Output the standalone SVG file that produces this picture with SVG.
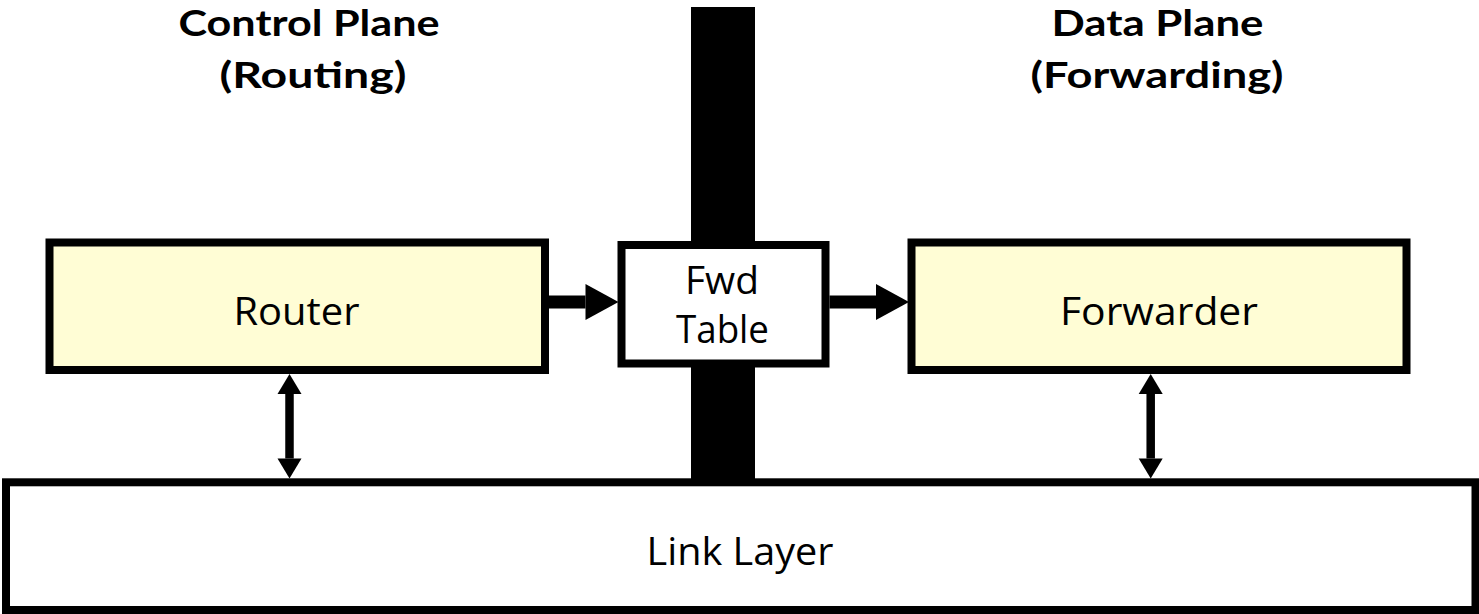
<svg xmlns="http://www.w3.org/2000/svg" width="1479" height="614" viewBox="0 0 1479 614">
<defs>
<style>
.box{stroke:#000;stroke-width:8;}
.plane{fill:#FFFDD5;}
.white{fill:#FFFFFF;}
.lbl{font-family:"Open Sans","Liberation Sans",sans-serif;font-size:39px;fill:#000;text-anchor:middle;}
.small{font-size:38px;}
.ttl{font-family:Lato,"Open Sans","Liberation Sans",sans-serif;font-size:37px;font-weight:bold;fill:#000;text-anchor:middle;}
.hshaft{stroke:#000;stroke-width:13;fill:none;marker-end:url(#hhead);}
.vshaft{stroke:#000;stroke-width:8.5;fill:none;marker-start:url(#vhead);marker-end:url(#vhead);}
</style>
<marker id="hhead" markerUnits="userSpaceOnUse" markerWidth="33" markerHeight="36" refX="0" refY="18" orient="auto" overflow="visible">
<path d="M0,0 L33,18 L0,36 Z" fill="#000"/>
</marker>
<marker id="vhead" markerUnits="userSpaceOnUse" markerWidth="20" markerHeight="24" refX="0" refY="12" orient="auto-start-reverse" overflow="visible">
<path d="M0,0 L20,12 L0,24 Z" fill="#000"/>
</marker>
</defs>
<rect width="1479" height="614" fill="#FFFFFF"/>

<g id="titles">
<text class="ttl" x="309" y="36" textLength="261" lengthAdjust="spacingAndGlyphs">Control Plane</text>
<text class="ttl" x="313" y="88" textLength="187" lengthAdjust="spacingAndGlyphs">(Routing)</text>
<text class="ttl" x="1157.5" y="36" textLength="212" lengthAdjust="spacingAndGlyphs">Data Plane</text>
<text class="ttl" x="1157" y="88" textLength="253" lengthAdjust="spacingAndGlyphs">(Forwarding)</text>
</g>

<g id="separator">
<rect x="691" y="7" width="64" height="476" fill="#000"/>
</g>

<g id="router">
<rect class="box plane" x="49.5" y="242.5" width="495.5" height="127.5"/>
<text class="lbl" x="296.5" y="325" textLength="126" lengthAdjust="spacingAndGlyphs">Router</text>
</g>

<g id="fwdtable">
<rect class="box white" x="621.5" y="245" width="204" height="118.5"/>
<text class="lbl small" x="722" y="293.5" textLength="74" lengthAdjust="spacingAndGlyphs">Fwd</text>
<text class="lbl small" x="722.5" y="342.5" textLength="93" lengthAdjust="spacingAndGlyphs">Table</text>
</g>

<g id="forwarder">
<rect class="box plane" x="911.5" y="242.5" width="495" height="127.5"/>
<text class="lbl" x="1159" y="325" textLength="198" lengthAdjust="spacingAndGlyphs">Forwarder</text>
</g>

<g id="linklayer">
<rect class="box white" x="6" y="482.3" width="1469.5" height="127.7"/>
<text class="lbl" x="740" y="565" textLength="187" lengthAdjust="spacingAndGlyphs">Link Layer</text>
</g>

<g id="connectors">
<line class="hshaft" x1="549" y1="302" x2="585.5" y2="302"/>
<line class="hshaft" x1="829.5" y1="302" x2="876" y2="302"/>
<line class="vshaft" x1="289.5" y1="394" x2="289.5" y2="458.5"/>
<line class="vshaft" x1="1150.7" y1="394" x2="1150.7" y2="458.5"/>
</g>
</svg>
